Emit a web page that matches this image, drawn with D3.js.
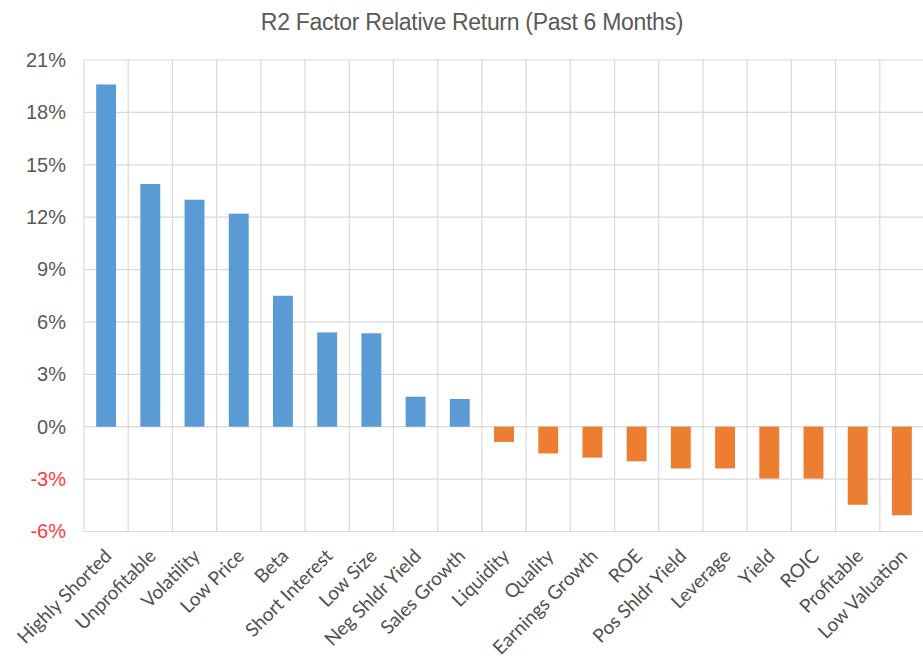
<!DOCTYPE html>
<html>
<head>
<meta charset="utf-8">
<script src="https://cdn.jsdelivr.net/npm/d3@7"></script>
<style>
  body { margin: 0; background: #fff; }
  svg { display: block; }
</style>
</head>
<body>
<div class="container"></div>
<script>
const title = "R2 Factor Relative Return (Past 6 Months)"
const factors = ["Highly Shorted", "Unprofitable", "Volatility", "Low Price", "Beta", "Short Interest",
  "Low Size", "Neg Shldr Yield", "Sales Growth", "Liquidity", "Quality", "Earnings Growth", "ROE",
  "Pos Shldr Yield", "Leverage", "Yield", "ROIC", "Profitable", "Low Valuation"]
const returns = [19.6, 13.9, 13.0, 12.2, 7.5, 5.4, 5.35, 1.72, 1.59, -0.87, -1.53, -1.77, -1.98,
  -2.39, -2.39, -2.97, -2.97, -4.47, -5.07]
const yTicks = [-6, -3, 0, 3, 6, 9, 12, 15, 18, 21]

const w = 923
const h = 661
const plotLeft = 84
const plotRight = 924
const plotTop = 60
const plotBottom = 531.5

const svg = d3.select(".container")
  .append("svg")
  .attr("width", w)
  .attr("height", h)

const xScale = d3.scaleBand()
  .domain(factors)
  .range([plotLeft, plotRight])
  .paddingInner(0.55)
  .paddingOuter(0.275)

const yScale = d3.scaleLinear()
  .domain([-6, 21])
  .range([plotBottom, plotTop])

const step = xScale.step()
const gridColor = "#d9d9d9"

// horizontal grid
svg.append("g")
  .selectAll("line")
  .data(yTicks)
  .enter()
  .append("line")
  .attr("x1", plotLeft)
  .attr("x2", plotRight)
  .attr("y1", d => yScale(d))
  .attr("y2", d => yScale(d))
  .attr("stroke", gridColor)
  .attr("stroke-width", 1.2)

// vertical grid at band edges
svg.append("g")
  .selectAll("line")
  .data(d3.range(factors.length + 1))
  .enter()
  .append("line")
  .attr("x1", i => plotLeft + i * step)
  .attr("x2", i => plotLeft + i * step)
  .attr("y1", yScale(21))
  .attr("y2", yScale(-6))
  .attr("stroke", gridColor)
  .attr("stroke-width", 1.2)

svg.append("g")
  .selectAll("rect")
  .data(factors)
  .enter()
  .append("rect")
  .attr("x", (d) => xScale(d))
  .attr("width", xScale.bandwidth())
  .attr("y", (d, i) => yScale(Math.max(0, returns[i])))
  .attr("height", (d, i) => Math.abs(yScale(returns[i]) - yScale(0)))
  .attr("fill", (d, i) => returns[i] >= 0 ? "#5b9bd5" : "#ed7d31")

// y axis labels
const yAxis = d3.axisLeft(yScale)
  .tickValues(yTicks)
  .tickFormat(d => d + "%")
  .tickSize(0)
  .tickPadding(18)

svg.append("g")
  .attr("transform", "translate(" + plotLeft + ",0)")
  .call(yAxis)
  .call(g => g.select(".domain").remove())
  .selectAll("text")
  .attr("font-family", "'Liberation Sans', Arial, sans-serif")
  .attr("font-size", 20)
  .attr("fill", d => d < 0 ? "#ff3b3b" : "#595959")

// x axis labels, rotated
svg.append("g")
  .selectAll("text")
  .data(factors)
  .enter()
  .append("text")
  .attr("transform", d => "translate(" + (xScale(d) + xScale.bandwidth() / 2 + 2) + "," + (plotBottom + 21) + ") rotate(-45)")
  .attr("text-anchor", "end")
  .attr("dy", "0.35em")
  .attr("font-family", "Lato, 'Open Sans', sans-serif")
  .attr("font-size", 19)
  .attr("fill", "#505050")
  .text(d => d)

svg.append("text")
  .attr("x", 472)
  .attr("y", 30)
  .attr("text-anchor", "middle")
  .attr("font-family", "'Liberation Sans', Arial, sans-serif")
  .attr("font-size", 23)
  .attr("letter-spacing", -0.3)
  .attr("fill", "#595959")
  .text(title)
</script>
</body>
</html>
